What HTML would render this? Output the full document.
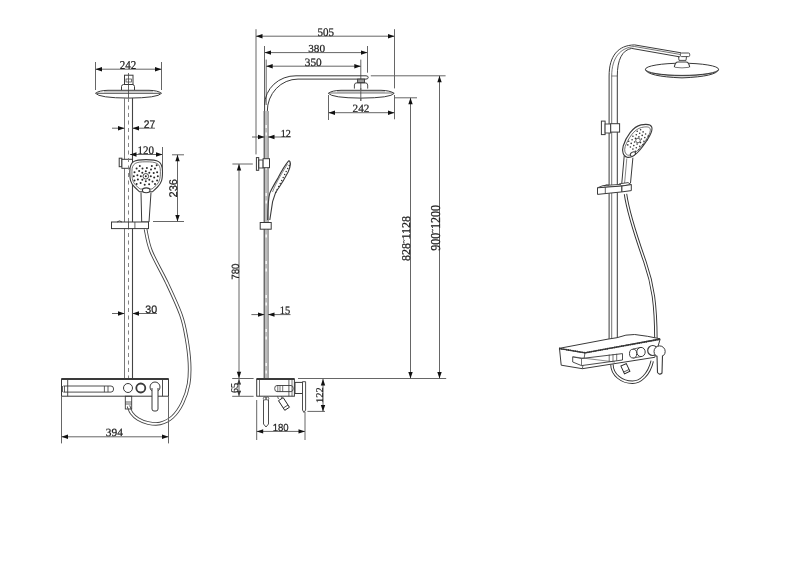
<!DOCTYPE html>
<html><head><meta charset="utf-8"><style>
html,body{margin:0;padding:0;background:#fff;}
svg{display:block;filter:blur(0.45px);}
</style></head><body>
<svg width="800" height="566" viewBox="0 0 800 566">
<rect width="800" height="566" fill="#fff"/>
<line x1="95.5" y1="62" x2="95.5" y2="90" stroke="#666" stroke-width="1" />
<line x1="161.5" y1="62" x2="161.5" y2="90" stroke="#666" stroke-width="1" />
<line x1="95.5" y1="69.2" x2="161.5" y2="69.2" stroke="#666" stroke-width="1" />
<path d="M95.50,69.20 L102.00,67.00 L102.00,71.40 Z" fill="#111"/>
<path d="M161.50,69.20 L155.00,71.40 L155.00,67.00 Z" fill="#111"/>
<text x="0" y="0" font-family="Liberation Serif" font-size="100" text-rendering="geometricPrecision" fill="#222" stroke="#222" stroke-width="2" transform="translate(119.76 69.10) scale(0.1107 0.1200)">242</text>
<rect x="124.5" y="75.2" width="8.5" height="9.3" rx="0" stroke="#3a3a3a" stroke-width="1" fill="none"/>
<rect x="126" y="79" width="5.5" height="3" rx="0" stroke="#3a3a3a" stroke-width="0.7" fill="none"/>
<path d="M121.5,90 L121.5,86.5 Q121.8,84.5 123.5,84.5 L132.5,84.5 Q134.2,84.5 134.5,86.5 L134.5,90" stroke="#3a3a3a" stroke-width="1" fill="none" />
<path d="M95.5,93.3 Q99,90.5 108,90.3 L149,90.3 Q158,90.5 161.5,93.3 Q158,97.9 128.5,98.1 Q99,97.9 95.5,93.3 Z" stroke="#3a3a3a" stroke-width="1" fill="#fff" />
<line x1="97" y1="93.3" x2="160" y2="93.3" stroke="#3a3a3a" stroke-width="0.9" />
<line x1="104" y1="91.8" x2="153" y2="91.8" stroke="#777" stroke-width="0.6" />
<line x1="128.5" y1="73" x2="128.5" y2="98" stroke="#444" stroke-width="0.8" />
<line x1="124.5" y1="98" x2="124.5" y2="379" stroke="#777" stroke-width="1" />
<line x1="132.5" y1="98" x2="132.5" y2="379" stroke="#444" stroke-width="1.1" />
<line x1="112" y1="128.2" x2="124.5" y2="128.2" stroke="#666" stroke-width="1" />
<line x1="132.5" y1="128.2" x2="155" y2="128.2" stroke="#666" stroke-width="1" />
<path d="M124.50,128.20 L118.00,130.40 L118.00,126.00 Z" fill="#111"/>
<path d="M132.50,128.20 L139.00,126.00 L139.00,130.40 Z" fill="#111"/>
<text x="0" y="0" font-family="Liberation Sans" font-size="100" text-rendering="geometricPrecision" fill="#222" stroke="#222" stroke-width="2" transform="translate(143.79 128.30) scale(0.1030 0.1100)">27</text>
<line x1="130" y1="154.5" x2="162.5" y2="154.5" stroke="#666" stroke-width="1" />
<path d="M130.00,154.50 L136.50,152.30 L136.50,156.70 Z" fill="#111"/>
<path d="M162.50,154.50 L156.00,156.70 L156.00,152.30 Z" fill="#111"/>
<line x1="162.5" y1="147" x2="162.5" y2="172" stroke="#666" stroke-width="1" />
<text x="0" y="0" font-family="Liberation Serif" font-size="100" text-rendering="geometricPrecision" fill="#222" stroke="#222" stroke-width="2" transform="translate(137.41 154.07) scale(0.1102 0.1147)">120</text>
<line x1="172" y1="154.8" x2="184" y2="154.8" stroke="#666" stroke-width="1" />
<line x1="153" y1="221.5" x2="184" y2="221.5" stroke="#666" stroke-width="1" />
<line x1="177.5" y1="154.8" x2="177.5" y2="221.5" stroke="#666" stroke-width="1" />
<path d="M177.50,154.80 L179.70,161.30 L175.30,161.30 Z" fill="#111"/>
<path d="M177.50,221.50 L175.30,215.00 L179.70,215.00 Z" fill="#111"/>
<text x="0" y="0" font-family="Liberation Sans" font-size="100" text-rendering="geometricPrecision" fill="#222" stroke="#222" stroke-width="2" transform="translate(176.79 197.45) rotate(-90) scale(0.1102 0.1113)">236</text>
<rect x="119.2" y="158.2" width="2.7" height="8.5" rx="0" stroke="#3a3a3a" stroke-width="1" fill="none"/>
<rect x="121.9" y="159.3" width="10.6" height="9" rx="0" stroke="#3a3a3a" stroke-width="1" fill="#fff"/>
<line x1="128.5" y1="98" x2="128.5" y2="379" stroke="#777" stroke-width="0.9" stroke-dasharray="4,3.5"/>
<path d="M146,159.6 C157.5,159.6 162.5,161 162.5,171.5 C162.5,180 161.5,183 157.5,187 L152.5,191.8 L139.5,191.8 L134.5,187 C130.5,183 129.8,180 129.8,171.5 C129.8,161 134.5,159.6 146,159.6 Z" stroke="#3a3a3a" stroke-width="1.1" fill="#fff" />
<path d="M146,161.8 C156,161.8 160.4,163 160.4,171.5 C160.4,179 159.5,182 156,185.5 L152,189 L140,189 L136,185.5 C132.5,182 131.9,179 131.9,171.5 C131.9,163 136,161.8 146,161.8 Z" stroke="#3a3a3a" stroke-width="0.7" fill="none" />
<circle cx="150.8" cy="176.3" r="1.0" stroke="none" stroke-width="0" fill="#2a2a2a"/>
<circle cx="149.3" cy="179.8" r="1.0" stroke="none" stroke-width="0" fill="#2a2a2a"/>
<circle cx="145.8" cy="181.3" r="1.0" stroke="none" stroke-width="0" fill="#2a2a2a"/>
<circle cx="142.3" cy="179.8" r="1.0" stroke="none" stroke-width="0" fill="#2a2a2a"/>
<circle cx="140.8" cy="176.3" r="1.0" stroke="none" stroke-width="0" fill="#2a2a2a"/>
<circle cx="142.3" cy="172.8" r="1.0" stroke="none" stroke-width="0" fill="#2a2a2a"/>
<circle cx="145.8" cy="171.3" r="1.0" stroke="none" stroke-width="0" fill="#2a2a2a"/>
<circle cx="149.3" cy="172.8" r="1.0" stroke="none" stroke-width="0" fill="#2a2a2a"/>
<circle cx="154.2" cy="177.4" r="1.0" stroke="none" stroke-width="0" fill="#2a2a2a"/>
<circle cx="152.5" cy="181.5" r="1.0" stroke="none" stroke-width="0" fill="#2a2a2a"/>
<circle cx="149.1" cy="184.2" r="1.0" stroke="none" stroke-width="0" fill="#2a2a2a"/>
<circle cx="144.7" cy="184.7" r="1.0" stroke="none" stroke-width="0" fill="#2a2a2a"/>
<circle cx="140.6" cy="183.0" r="1.0" stroke="none" stroke-width="0" fill="#2a2a2a"/>
<circle cx="137.9" cy="179.6" r="1.0" stroke="none" stroke-width="0" fill="#2a2a2a"/>
<circle cx="137.4" cy="175.2" r="1.0" stroke="none" stroke-width="0" fill="#2a2a2a"/>
<circle cx="139.1" cy="171.1" r="1.0" stroke="none" stroke-width="0" fill="#2a2a2a"/>
<circle cx="142.5" cy="168.4" r="1.0" stroke="none" stroke-width="0" fill="#2a2a2a"/>
<circle cx="146.9" cy="167.9" r="1.0" stroke="none" stroke-width="0" fill="#2a2a2a"/>
<circle cx="151.0" cy="169.6" r="1.0" stroke="none" stroke-width="0" fill="#2a2a2a"/>
<circle cx="153.7" cy="173.0" r="1.0" stroke="none" stroke-width="0" fill="#2a2a2a"/>
<circle cx="157.8" cy="176.3" r="1.0" stroke="none" stroke-width="0" fill="#2a2a2a"/>
<circle cx="157.1" cy="180.4" r="1.0" stroke="none" stroke-width="0" fill="#2a2a2a"/>
<circle cx="155.0" cy="184.0" r="1.0" stroke="none" stroke-width="0" fill="#2a2a2a"/>
<circle cx="136.6" cy="184.0" r="1.0" stroke="none" stroke-width="0" fill="#2a2a2a"/>
<circle cx="134.5" cy="180.4" r="1.0" stroke="none" stroke-width="0" fill="#2a2a2a"/>
<circle cx="133.8" cy="176.3" r="1.0" stroke="none" stroke-width="0" fill="#2a2a2a"/>
<circle cx="134.5" cy="172.2" r="1.0" stroke="none" stroke-width="0" fill="#2a2a2a"/>
<circle cx="136.6" cy="168.6" r="1.0" stroke="none" stroke-width="0" fill="#2a2a2a"/>
<circle cx="139.8" cy="165.9" r="1.0" stroke="none" stroke-width="0" fill="#2a2a2a"/>
<circle cx="151.8" cy="165.9" r="1.0" stroke="none" stroke-width="0" fill="#2a2a2a"/>
<circle cx="155.0" cy="168.6" r="1.0" stroke="none" stroke-width="0" fill="#2a2a2a"/>
<circle cx="157.1" cy="172.2" r="1.0" stroke="none" stroke-width="0" fill="#2a2a2a"/>
<circle cx="156.7" cy="165.3" r="1.0" stroke="none" stroke-width="0" fill="#2a2a2a"/>
<circle cx="145.8" cy="176.3" r="2.8" stroke="#3a3a3a" stroke-width="0.9" fill="none"/>
<circle cx="145.8" cy="176.3" r="1.0" stroke="none" stroke-width="0" fill="#222"/>
<ellipse cx="146.2" cy="190.3" rx="3.8" ry="2.4" stroke="#3a3a3a" stroke-width="1.1" fill="#fff" />
<path d="M141,192.5 L141.7,222 L149,222 L151,192.5" stroke="#3a3a3a" stroke-width="1" fill="none" />
<rect x="111.5" y="222" width="37" height="6.6" rx="0" stroke="#3a3a3a" stroke-width="1" fill="#fff"/>
<line x1="128.5" y1="222" x2="128.5" y2="228.6" stroke="#3a3a3a" stroke-width="0.8" />
<line x1="134.9" y1="222" x2="134.9" y2="228.6" stroke="#3a3a3a" stroke-width="0.8" />
<path d="M117,222 Q119.5,219.8 122,222" stroke="#3a3a3a" stroke-width="0.9" fill="none" />
<path d="M145.5,229 C146.42,232.67 147.42,242.00 151,251 C154.58,260.00 162.00,272.33 167,283 C172.00,293.67 177.75,305.83 181,315 C184.25,324.17 185.08,330.00 186.5,338 C187.92,346.00 189.15,355.33 189.5,363 C189.85,370.67 189.78,377.33 188.6,384 C187.42,390.67 185.08,397.50 182.4,403 C179.72,408.50 176.23,413.58 172.5,417 C168.77,420.42 164.08,422.50 160,423.5 C155.92,424.50 151.67,423.75 148,423 C144.33,422.25 140.75,420.67 138,419 C135.25,417.33 133.08,415.17 131.5,413 C129.92,410.83 129.00,407.17 128.5,406" stroke="#444" stroke-width="3.6" fill="none" />
<path d="M145.5,229 C146.42,232.67 147.42,242.00 151,251 C154.58,260.00 162.00,272.33 167,283 C172.00,293.67 177.75,305.83 181,315 C184.25,324.17 185.08,330.00 186.5,338 C187.92,346.00 189.15,355.33 189.5,363 C189.85,370.67 189.78,377.33 188.6,384 C187.42,390.67 185.08,397.50 182.4,403 C179.72,408.50 176.23,413.58 172.5,417 C168.77,420.42 164.08,422.50 160,423.5 C155.92,424.50 151.67,423.75 148,423 C144.33,422.25 140.75,420.67 138,419 C135.25,417.33 133.08,415.17 131.5,413 C129.92,410.83 129.00,407.17 128.5,406" stroke="#fff" stroke-width="1.8" fill="none" />
<line x1="112" y1="313.5" x2="124.5" y2="313.5" stroke="#666" stroke-width="1" />
<line x1="132.5" y1="313.5" x2="157" y2="313.5" stroke="#666" stroke-width="1" />
<path d="M124.50,313.50 L118.00,315.70 L118.00,311.30 Z" fill="#111"/>
<path d="M132.50,313.50 L139.00,311.30 L139.00,315.70 Z" fill="#111"/>
<text x="0" y="0" font-family="Liberation Sans" font-size="100" text-rendering="geometricPrecision" fill="#222" stroke="#222" stroke-width="2" transform="translate(145.37 313.49) scale(0.1068 0.1085)">30</text>
<rect x="61.5" y="379" width="107" height="17.2" rx="0" stroke="#3a3a3a" stroke-width="1" fill="#fff"/>
<line x1="61.5" y1="379" x2="168.5" y2="379" stroke="#3a3a3a" stroke-width="2" />
<line x1="67.7" y1="379" x2="67.7" y2="396.2" stroke="#3a3a3a" stroke-width="0.9" />
<line x1="162.5" y1="379" x2="162.5" y2="396.2" stroke="#3a3a3a" stroke-width="0.9" />
<path d="M63.4,386 L111,386 Q113.6,386 113.6,389 Q113.6,392.1 111,392.1 L63.4,392.1" stroke="#3a3a3a" stroke-width="0.9" fill="none" />
<line x1="104.4" y1="386" x2="104.4" y2="392.1" stroke="#3a3a3a" stroke-width="0.8" />
<line x1="108" y1="386" x2="108" y2="392.1" stroke="#3a3a3a" stroke-width="0.8" />
<line x1="62.5" y1="386" x2="62.5" y2="392.1" stroke="#3a3a3a" stroke-width="0.8" />
<line x1="64.5" y1="386" x2="64.5" y2="392.1" stroke="#3a3a3a" stroke-width="0.8" />
<circle cx="128" cy="388" r="4.5" stroke="#3a3a3a" stroke-width="1" fill="none"/>
<circle cx="140.8" cy="388" r="4.5" stroke="#3a3a3a" stroke-width="1.8" fill="none"/>
<circle cx="155" cy="387" r="5" stroke="#3a3a3a" stroke-width="1" fill="none"/>
<path d="M152,388 L152,409 Q152,411 154,411 L156,411 Q158,411 158,409 L158,388" stroke="#3a3a3a" stroke-width="1" fill="#fff" />
<rect x="125.3" y="396.2" width="6.4" height="12.8" rx="0" stroke="#3a3a3a" stroke-width="0.9" fill="none"/>
<line x1="125.3" y1="402" x2="131.7" y2="402" stroke="#3a3a3a" stroke-width="0.8" />
<line x1="125.3" y1="404" x2="131.7" y2="404" stroke="#3a3a3a" stroke-width="0.8" />
<line x1="61.5" y1="396" x2="61.5" y2="443.4" stroke="#666" stroke-width="1" />
<line x1="168.5" y1="396" x2="168.5" y2="443.4" stroke="#666" stroke-width="1" />
<line x1="61.5" y1="436.8" x2="168.5" y2="436.8" stroke="#666" stroke-width="1" />
<path d="M61.50,436.80 L68.00,434.60 L68.00,439.00 Z" fill="#111"/>
<path d="M168.50,436.80 L162.00,439.00 L162.00,434.60 Z" fill="#111"/>
<text x="0" y="0" font-family="Liberation Serif" font-size="100" text-rendering="geometricPrecision" fill="#222" stroke="#222" stroke-width="2" transform="translate(105.73 436.39) scale(0.1140 0.1106)">394</text>
<line x1="256" y1="29.2" x2="256" y2="154.4" stroke="#666" stroke-width="1" />
<line x1="394.5" y1="29.2" x2="394.5" y2="88.4" stroke="#666" stroke-width="1" />
<line x1="394.5" y1="95" x2="394.5" y2="119.3" stroke="#666" stroke-width="1" />
<line x1="256" y1="36.2" x2="394.5" y2="36.2" stroke="#666" stroke-width="1" />
<path d="M256.00,36.20 L262.50,34.00 L262.50,38.40 Z" fill="#111"/>
<path d="M394.50,36.20 L388.00,38.40 L388.00,34.00 Z" fill="#111"/>
<text x="0" y="0" font-family="Liberation Serif" font-size="100" text-rendering="geometricPrecision" fill="#222" stroke="#222" stroke-width="2" transform="translate(317.39 35.77) scale(0.1104 0.1164)">505</text>
<line x1="264.5" y1="46" x2="264.5" y2="105" stroke="#666" stroke-width="1" />
<line x1="367.5" y1="46" x2="367.5" y2="72.7" stroke="#666" stroke-width="1" />
<line x1="264.5" y1="52.6" x2="367.5" y2="52.6" stroke="#666" stroke-width="1" />
<path d="M264.50,52.60 L271.00,50.40 L271.00,54.80 Z" fill="#111"/>
<path d="M367.50,52.60 L361.00,54.80 L361.00,50.40 Z" fill="#111"/>
<text x="0" y="0" font-family="Liberation Serif" font-size="100" text-rendering="geometricPrecision" fill="#222" stroke="#222" stroke-width="2" transform="translate(308.24 52.19) scale(0.1121 0.1060)">380</text>
<line x1="266.2" y1="59.6" x2="266.2" y2="105" stroke="#666" stroke-width="1" />
<line x1="360.8" y1="59.6" x2="360.8" y2="101" stroke="#666" stroke-width="1" />
<line x1="266.2" y1="66.2" x2="360.8" y2="66.2" stroke="#666" stroke-width="1" />
<path d="M266.20,66.20 L272.70,64.00 L272.70,68.40 Z" fill="#111"/>
<path d="M360.80,66.20 L354.30,68.40 L354.30,64.00 Z" fill="#111"/>
<text x="0" y="0" font-family="Liberation Serif" font-size="100" text-rendering="geometricPrecision" fill="#222" stroke="#222" stroke-width="2" transform="translate(304.74 65.67) scale(0.1128 0.1134)">350</text>
<path d="M264.6,130 L264.6,105 A31,29.5 0 0 1 296,75.8 L366,75.8 Q368.2,75.8 368.2,77.4 Q368.2,79.1 366,79.1 L298,79.1 A30.7,32 0 0 0 267.3,111.4 L267.3,130" stroke="#3a3a3a" stroke-width="1" fill="none" />
<rect x="264" y="111" width="4.5" height="268" fill="#bdbdbd"/>
<line x1="264.2" y1="111" x2="264.2" y2="379" stroke="#555" stroke-width="1.2" />
<line x1="268.2" y1="111" x2="268.2" y2="379" stroke="#888" stroke-width="1" />
<line x1="266.2" y1="117" x2="266.2" y2="379" stroke="#fff" stroke-width="1.3" stroke-dasharray="0,8,3,4.5,3,15.5"/>
<rect x="357.6" y="79.1" width="6.9" height="3.7" rx="0" stroke="#3a3a3a" stroke-width="0.9" fill="#999"/>
<path d="M354.4,88.6 L354.4,85 Q354.4,82.8 357,82.8 L365,82.8 Q367.7,82.8 367.7,85 L367.7,88.6" stroke="#3a3a3a" stroke-width="0.9" fill="none" />
<path d="M328.3,93.3 Q332,90.5 341,90.3 L381,90.3 Q390,90.5 394.2,93.3 Q391,97.9 361,98.1 Q332,97.9 328.3,93.3 Z" stroke="#3a3a3a" stroke-width="1" fill="#fff" />
<line x1="337" y1="91.8" x2="385" y2="91.8" stroke="#777" stroke-width="0.6" />
<line x1="360.8" y1="88" x2="360.8" y2="101" stroke="#666" stroke-width="1" />
<line x1="330" y1="93" x2="392.5" y2="93" stroke="#3a3a3a" stroke-width="0.7" />
<line x1="370.8" y1="75.8" x2="445.6" y2="75.8" stroke="#666" stroke-width="1" />
<line x1="394.5" y1="97.8" x2="417" y2="97.8" stroke="#666" stroke-width="1" />
<line x1="328.5" y1="95" x2="328.5" y2="120" stroke="#666" stroke-width="1" />
<line x1="328.5" y1="112.7" x2="394.5" y2="112.7" stroke="#666" stroke-width="1" />
<path d="M328.50,112.70 L335.00,110.50 L335.00,114.90 Z" fill="#111"/>
<path d="M394.50,112.70 L388.00,114.90 L388.00,110.50 Z" fill="#111"/>
<text x="0" y="0" font-family="Liberation Serif" font-size="100" text-rendering="geometricPrecision" fill="#222" stroke="#222" stroke-width="2" transform="translate(352.55 112.45) scale(0.1121 0.1115)">242</text>
<line x1="252" y1="137" x2="264.5" y2="137" stroke="#666" stroke-width="1" />
<line x1="268" y1="137" x2="290.7" y2="137" stroke="#666" stroke-width="1" />
<path d="M264.50,137.00 L258.00,139.20 L258.00,134.80 Z" fill="#111"/>
<path d="M268.00,137.00 L274.50,134.80 L274.50,139.20 Z" fill="#111"/>
<text x="0" y="0" font-family="Liberation Serif" font-size="100" text-rendering="geometricPrecision" fill="#222" stroke="#222" stroke-width="2" transform="translate(280.69 136.50) scale(0.1012 0.1061)">12</text>
<rect x="256.4" y="157.6" width="2.3" height="12.7" rx="0" stroke="#3a3a3a" stroke-width="1" fill="none"/>
<rect x="258.7" y="160" width="4.4" height="8" rx="0" stroke="#3a3a3a" stroke-width="0.9" fill="none"/>
<rect x="263.1" y="158.7" width="6.4" height="9" rx="0" stroke="#3a3a3a" stroke-width="1" fill="#fff"/>
<line x1="232.4" y1="164" x2="252.8" y2="164" stroke="#666" stroke-width="1" />
<line x1="239" y1="164" x2="239" y2="378.5" stroke="#666" stroke-width="1" />
<path d="M239.00,164.00 L241.20,170.50 L236.80,170.50 Z" fill="#111"/>
<path d="M239.00,378.30 L236.80,371.80 L241.20,371.80 Z" fill="#111"/>
<text x="0" y="0" font-family="Liberation Sans" font-size="100" text-rendering="geometricPrecision" fill="#222" stroke="#222" stroke-width="2" transform="translate(238.69 279.79) rotate(-90) scale(0.0981 0.1056)">780</text>
<line x1="232.2" y1="378.5" x2="253.6" y2="378.5" stroke="#666" stroke-width="1" />
<line x1="232.2" y1="396.3" x2="253.6" y2="396.3" stroke="#666" stroke-width="1" />
<path d="M239.00,379.00 L241.00,384.50 L237.00,384.50 Z" fill="#111"/>
<path d="M239.00,396.30 L237.00,390.80 L241.00,390.80 Z" fill="#111"/>
<line x1="239" y1="379" x2="239" y2="396" stroke="#666" stroke-width="1" />
<text x="0" y="0" font-family="Liberation Serif" font-size="100" text-rendering="geometricPrecision" fill="#222" stroke="#222" stroke-width="2" transform="translate(238.19 393.00) rotate(-90) scale(0.1011 0.1045)">65</text>
<line x1="251.4" y1="314.6" x2="264.5" y2="314.6" stroke="#666" stroke-width="1" />
<line x1="268" y1="314.6" x2="290.5" y2="314.6" stroke="#666" stroke-width="1" />
<path d="M264.50,314.60 L258.00,316.80 L258.00,312.40 Z" fill="#111"/>
<path d="M268.00,314.60 L274.50,312.40 L274.50,316.80 Z" fill="#111"/>
<text x="0" y="0" font-family="Liberation Serif" font-size="100" text-rendering="geometricPrecision" fill="#222" stroke="#222" stroke-width="2" transform="translate(279.76 314.29) scale(0.1046 0.1134)">15</text>
<path d="M288.8,160.6 C286,164 281,172 278.2,177.6 C275,183 271,190 269.8,193.1 C268.3,198 267.8,210 267.7,220" stroke="#3a3a3a" stroke-width="1.1" fill="none" />
<path d="M288.8,160.6 C290.8,161.5 290.8,166 288.1,172 C286,176 282,183 279,187.5 C277,190 276,192 275.4,193.1 L272.6,201.6 L269.8,220" stroke="#3a3a3a" stroke-width="1.1" fill="none" />
<path d="M287.5,164 C284,170 276,182 272.5,192" stroke="#3a3a3a" stroke-width="0.6" fill="none" />
<circle cx="289.2" cy="165.5" r="0.75" stroke="none" stroke-width="0" fill="#333"/>
<circle cx="287.7" cy="168.5" r="0.75" stroke="none" stroke-width="0" fill="#333"/>
<circle cx="286.2" cy="171.5" r="0.75" stroke="none" stroke-width="0" fill="#333"/>
<circle cx="284.7" cy="174.5" r="0.75" stroke="none" stroke-width="0" fill="#333"/>
<circle cx="283.2" cy="177.5" r="0.75" stroke="none" stroke-width="0" fill="#333"/>
<circle cx="281.7" cy="180.5" r="0.75" stroke="none" stroke-width="0" fill="#333"/>
<circle cx="280.2" cy="183.5" r="0.75" stroke="none" stroke-width="0" fill="#333"/>
<circle cx="278.7" cy="186.5" r="0.75" stroke="none" stroke-width="0" fill="#333"/>
<circle cx="277.2" cy="189.5" r="0.75" stroke="none" stroke-width="0" fill="#333"/>
<circle cx="275.7" cy="192.5" r="0.75" stroke="none" stroke-width="0" fill="#333"/>
<rect x="260.2" y="222.5" width="11" height="6.7" rx="0" stroke="#3a3a3a" stroke-width="1" fill="#fff"/>
<rect x="256.7" y="379" width="37.7" height="17.2" rx="0" stroke="#3a3a3a" stroke-width="1" fill="#fff"/>
<line x1="256.7" y1="379" x2="294.4" y2="379" stroke="#3a3a3a" stroke-width="2" />
<line x1="259.5" y1="379" x2="259.5" y2="396.2" stroke="#3a3a3a" stroke-width="0.7" />
<line x1="288.9" y1="379" x2="288.9" y2="396.2" stroke="#3a3a3a" stroke-width="0.8" />
<line x1="292" y1="379" x2="292" y2="396.2" stroke="#3a3a3a" stroke-width="0.7" />
<path d="M277,385.5 L291,385.5 Q293.2,385.5 293.2,388.5 Q293.2,391.6 291,391.6 L277,391.6 Q274.7,391.6 274.7,388.5 Q274.7,385.5 277,385.5 Z" stroke="#3a3a3a" stroke-width="0.9" fill="none" />
<line x1="277.8" y1="385.5" x2="277.8" y2="391.6" stroke="#3a3a3a" stroke-width="0.7" />
<line x1="280" y1="385.5" x2="280" y2="391.6" stroke="#3a3a3a" stroke-width="0.7" />
<line x1="282.7" y1="385.5" x2="282.7" y2="391.6" stroke="#3a3a3a" stroke-width="0.7" />
<rect x="295" y="382.4" width="8" height="11.1" rx="0" stroke="#3a3a3a" stroke-width="1" fill="none"/>
<path d="M302.5,381.7 L305.6,381.7 L305.6,410 L304,412.5 L302.5,410 Z" stroke="#3a3a3a" stroke-width="0.9" fill="#fff" />
<path d="M263.5,400 L263.5,424 L266,427 L268.5,424 L268.5,400" stroke="#3a3a3a" stroke-width="0.9" fill="none" />
<circle cx="264.8" cy="398.5" r="1.5" stroke="#3a3a3a" stroke-width="0.8" fill="none"/>
<circle cx="267.3" cy="398.5" r="1.5" stroke="#3a3a3a" stroke-width="0.8" fill="none"/>
<path d="M277.5,396.4 L278.5,399 M281.5,396.4 L282,398.5" stroke="#3a3a3a" stroke-width="0.8" fill="none" />
<g transform="rotate(-33 284 404)"><rect x="281.2" y="398.2" width="5.6" height="11.5" stroke="#222" stroke-width="0.9" fill="#fff"/><line x1="281.2" y1="407" x2="286.8" y2="407" stroke="#222" stroke-width="0.7"/></g>
<line x1="298" y1="378.5" x2="446.2" y2="378.5" stroke="#666" stroke-width="1" />
<line x1="307.4" y1="411.4" x2="325" y2="411.4" stroke="#666" stroke-width="1" />
<line x1="323" y1="378.9" x2="323" y2="411.4" stroke="#666" stroke-width="1" />
<path d="M323.00,378.90 L325.20,385.40 L320.80,385.40 Z" fill="#111"/>
<path d="M323.00,411.40 L320.80,404.90 L325.20,404.90 Z" fill="#111"/>
<text x="0" y="0" font-family="Liberation Serif" font-size="100" text-rendering="geometricPrecision" fill="#222" stroke="#222" stroke-width="2" transform="translate(322.70 402.93) rotate(-90) scale(0.1037 0.1030)">122</text>
<line x1="256.7" y1="400" x2="256.7" y2="440" stroke="#666" stroke-width="1" />
<line x1="305" y1="412" x2="305" y2="440" stroke="#666" stroke-width="1" />
<line x1="256.7" y1="431.4" x2="305" y2="431.4" stroke="#666" stroke-width="1" />
<path d="M256.70,431.40 L263.20,429.20 L263.20,433.60 Z" fill="#111"/>
<path d="M305.00,431.40 L298.50,433.60 L298.50,429.20 Z" fill="#111"/>
<text x="0" y="0" font-family="Liberation Sans" font-size="100" text-rendering="geometricPrecision" fill="#222" stroke="#222" stroke-width="2" transform="translate(272.74 431.10) scale(0.0955 0.1028)">180</text>
<line x1="410.5" y1="97.8" x2="410.5" y2="378.5" stroke="#666" stroke-width="1" />
<path d="M410.50,97.80 L412.70,104.30 L408.30,104.30 Z" fill="#111"/>
<path d="M410.50,378.50 L408.30,372.00 L412.70,372.00 Z" fill="#111"/>
<line x1="439.5" y1="75.8" x2="439.5" y2="378.5" stroke="#666" stroke-width="1" />
<path d="M439.50,75.80 L441.70,82.30 L437.30,82.30 Z" fill="#111"/>
<path d="M439.50,378.50 L437.30,372.00 L441.70,372.00 Z" fill="#111"/>
<text x="0" y="0" font-family="Liberation Serif" font-size="100" text-rendering="geometricPrecision" fill="#222" stroke="#222" stroke-width="2" transform="translate(410.46 261.08) rotate(-90) scale(0.1201 0.1191)">828<tspan font-size="55" dy="-38">~</tspan><tspan dy="38">1128</tspan></text>
<text x="0" y="0" font-family="Liberation Serif" font-size="100" text-rendering="geometricPrecision" fill="#222" stroke="#222" stroke-width="2" transform="translate(439.73 250.66) rotate(-90) scale(0.1201 0.1353)">900<tspan font-size="55" dy="-38">~</tspan><tspan dy="38">1200</tspan></text>
<path d="M609.1,341 L609.1,76 C609.1,56 618,45.2 634.6,44.9 L681,52.8" stroke="#3a3a3a" stroke-width="1" fill="none" />
<path d="M617.3,341 L617.3,76 C617.3,60 622,50 631.7,48.4 L680,56.9" stroke="#3a3a3a" stroke-width="1" fill="none" />
<path d="M611.7,341 L611.7,76 C611.7,58 620,47.5 634.6,46.5 L680.5,54.5" stroke="#3a3a3a" stroke-width="0.7" fill="none" />
<line x1="611.7" y1="76" x2="617.3" y2="76" stroke="#3a3a3a" stroke-width="0.6" />
<rect x="680.4" y="53" width="9.3" height="3.6" rx="1.2" stroke="#3a3a3a" stroke-width="0.9" fill="#fff"/>
<path d="M678.5,56.6 L679,60.4 L686,60.4 L686.5,56.6" stroke="#3a3a3a" stroke-width="0.9" fill="none" />
<path d="M645.4,69.3 Q647,76.5 682,77.9 Q717,76.5 718.6,69.3 A36.6,6.1 0 0 1 645.4,69.3 Z" stroke="#3a3a3a" stroke-width="1" fill="#d8d8d8" />
<ellipse cx="682" cy="69.3" rx="36.6" ry="6.1" stroke="#3a3a3a" stroke-width="1" fill="#fff" />
<path d="M674.3,67.3 Q675,62 678,62 L686,62 Q689,62 689.7,67.3" stroke="#3a3a3a" stroke-width="1.1" fill="#fff" />
<path d="M675,67.3 Q682,68.5 689,67.3" stroke="#3a3a3a" stroke-width="0.7" fill="none" />
<rect x="601.4" y="121.1" width="3.7" height="13.5" rx="0" stroke="#3a3a3a" stroke-width="1" fill="#fff"/>
<rect x="605.1" y="124" width="5.6" height="9" rx="0" stroke="#3a3a3a" stroke-width="0.9" fill="#fff"/>
<rect x="610.7" y="123.7" width="8.9" height="8.4" rx="0" stroke="#3a3a3a" stroke-width="1" fill="#fff"/>
<path d="M624.2,156 L621.8,183.1 M632.9,157.7 L630.5,183.1" stroke="#3a3a3a" stroke-width="1" fill="none" />
<path d="M626.8,158.5 L624.6,183" stroke="#3a3a3a" stroke-width="0.6" fill="none" />
<path d="M641,124.9 C646,124 650.5,123.8 651.8,127.2 C653,131 648,140 639.5,150.5 C635,155.5 630.5,158.2 627,157.2 C623,156.2 621.8,151 623.2,146 C626,137 633,126.5 641,124.9 Z" stroke="#3a3a3a" stroke-width="1.1" fill="#fff" />
<path d="M641.5,127.5 C646,126.5 649.5,126.5 650.3,129 C651,133 646,141 638.5,149.5 C634,154 630,156 627.5,155 C625,154 624,150.5 625.2,146.5 C628,139 634,129 641.5,127.5 Z" stroke="#3a3a3a" stroke-width="0.7" fill="none" />
<circle cx="640.6" cy="129.7" r="0.8" stroke="none" stroke-width="0" fill="#333"/>
<circle cx="643.1" cy="131.9" r="0.8" stroke="none" stroke-width="0" fill="#333"/>
<circle cx="645.6" cy="134.0" r="0.8" stroke="none" stroke-width="0" fill="#333"/>
<circle cx="648.2" cy="136.1" r="0.8" stroke="none" stroke-width="0" fill="#333"/>
<circle cx="637.2" cy="131.2" r="0.8" stroke="none" stroke-width="0" fill="#333"/>
<circle cx="639.7" cy="133.3" r="0.8" stroke="none" stroke-width="0" fill="#333"/>
<circle cx="642.2" cy="135.4" r="0.8" stroke="none" stroke-width="0" fill="#333"/>
<circle cx="644.8" cy="137.6" r="0.8" stroke="none" stroke-width="0" fill="#333"/>
<circle cx="647.3" cy="139.7" r="0.8" stroke="none" stroke-width="0" fill="#333"/>
<circle cx="636.3" cy="134.8" r="0.8" stroke="none" stroke-width="0" fill="#333"/>
<circle cx="638.9" cy="136.9" r="0.8" stroke="none" stroke-width="0" fill="#333"/>
<circle cx="641.4" cy="139.0" r="0.8" stroke="none" stroke-width="0" fill="#333"/>
<circle cx="643.9" cy="141.2" r="0.8" stroke="none" stroke-width="0" fill="#333"/>
<circle cx="632.9" cy="136.3" r="0.8" stroke="none" stroke-width="0" fill="#333"/>
<circle cx="635.5" cy="138.4" r="0.8" stroke="none" stroke-width="0" fill="#333"/>
<circle cx="640.5" cy="142.6" r="0.8" stroke="none" stroke-width="0" fill="#333"/>
<circle cx="643.1" cy="144.7" r="0.8" stroke="none" stroke-width="0" fill="#333"/>
<circle cx="632.1" cy="139.8" r="0.8" stroke="none" stroke-width="0" fill="#333"/>
<circle cx="634.6" cy="142.0" r="0.8" stroke="none" stroke-width="0" fill="#333"/>
<circle cx="637.1" cy="144.1" r="0.8" stroke="none" stroke-width="0" fill="#333"/>
<circle cx="639.7" cy="146.2" r="0.8" stroke="none" stroke-width="0" fill="#333"/>
<circle cx="628.7" cy="141.3" r="0.8" stroke="none" stroke-width="0" fill="#333"/>
<circle cx="631.2" cy="143.4" r="0.8" stroke="none" stroke-width="0" fill="#333"/>
<circle cx="633.8" cy="145.6" r="0.8" stroke="none" stroke-width="0" fill="#333"/>
<circle cx="636.3" cy="147.7" r="0.8" stroke="none" stroke-width="0" fill="#333"/>
<circle cx="638.8" cy="149.8" r="0.8" stroke="none" stroke-width="0" fill="#333"/>
<circle cx="627.8" cy="144.9" r="0.8" stroke="none" stroke-width="0" fill="#333"/>
<circle cx="630.4" cy="147.0" r="0.8" stroke="none" stroke-width="0" fill="#333"/>
<circle cx="632.9" cy="149.1" r="0.8" stroke="none" stroke-width="0" fill="#333"/>
<circle cx="635.4" cy="151.3" r="0.8" stroke="none" stroke-width="0" fill="#333"/>
<circle cx="638" cy="140.5" r="2.3" stroke="#3a3a3a" stroke-width="0.8" fill="none"/>
<ellipse cx="632.9" cy="154" rx="2.8" ry="1.8" stroke="#3a3a3a" stroke-width="1" fill="#fff" transform="rotate(-30 632.9 154)"/>
<path d="M597.5,187.8 L603,185.6 L626,184 L621.9,186 Z" stroke="#3a3a3a" stroke-width="0.9" fill="#fff" />
<path d="M597.5,187.8 L621.9,186 L621.9,191.9 L597.5,194.4 Z" stroke="#3a3a3a" stroke-width="1" fill="#fff" />
<line x1="605.3" y1="187.2" x2="605.3" y2="193.6" stroke="#3a3a3a" stroke-width="0.8" />
<path d="M621.9,186 L619.5,183.8 L628,182.6 L631.3,184.6 Z" stroke="#3a3a3a" stroke-width="0.9" fill="#fff" />
<path d="M621.9,186 L631.3,184.6 L631.3,190.6 L621.9,191.9 Z" stroke="#3a3a3a" stroke-width="1" fill="#fff" />
<path d="M604,186 Q606.5,183.8 609,185.2" stroke="#3a3a3a" stroke-width="0.8" fill="none" />
<path d="M625.5,194 C627,205 632,225 645,262 C653,285 655.8,305 655.9,339" stroke="#333" stroke-width="3.4" fill="none" />
<path d="M625.5,194 C627,205 632,225 645,262 C653,285 655.8,305 655.9,339" stroke="#fff" stroke-width="1.5" fill="none" />
<path d="M652.2,361 C649,375 640,382.3 632.6,382.3 C622,382.3 612,375 611.9,364.2" stroke="#333" stroke-width="3.4" fill="none" />
<path d="M652.2,361 C649,375 640,382.3 632.6,382.3 C622,382.3 612,375 611.9,364.2" stroke="#fff" stroke-width="1.5" fill="none" />
<path d="M559.5,348.6 L561.2,365.2 L582.4,368.7 L654.8,357.3 L660.1,339.3 L585,352.8 Z" stroke="#3a3a3a" stroke-width="1" fill="#fff" />
<line x1="585" y1="352.8" x2="582.4" y2="368.7" stroke="#3a3a3a" stroke-width="0.8" />
<path d="M559,348.4 L608,339.1 L617,337.7 Q626,334.2 634.7,334.5 Q648,336 660.1,338.8 L585,352.8 Z" stroke="#3a3a3a" stroke-width="1" fill="#fff" />
<path d="M559,348.4 L585,352.8 L660.1,339.3" stroke="#333" stroke-width="1.6" fill="none" stroke-dasharray="1.2,0.6"/>
<path d="M572.7,356.8 L581.5,358.5 L622.5,353.6 L622.5,360 L581.5,365.6 L572.7,362 Z" stroke="#3a3a3a" stroke-width="0.9" fill="#fff" />
<line x1="581.5" y1="358.5" x2="581.5" y2="365.6" stroke="#3a3a3a" stroke-width="0.7" />
<line x1="572.7" y1="356.8" x2="615" y2="362" stroke="#3a3a3a" stroke-width="0.6" />
<line x1="609.2" y1="354.5" x2="609.2" y2="361.5" stroke="#3a3a3a" stroke-width="0.7" />
<line x1="613" y1="354" x2="613" y2="361" stroke="#3a3a3a" stroke-width="0.7" />
<line x1="616.7" y1="353.8" x2="616.7" y2="360.8" stroke="#3a3a3a" stroke-width="0.7" />
<ellipse cx="641" cy="352" rx="4.2" ry="4.6" stroke="#3a3a3a" stroke-width="1" fill="#fff" />
<path d="M633,349 L641,347.4 M633,358 L641,356.6" stroke="#3a3a3a" stroke-width="0.8" fill="none" />
<ellipse cx="633.1" cy="353.6" rx="3.6" ry="4.4" stroke="#3a3a3a" stroke-width="1" fill="#fff" />
<circle cx="652.7" cy="350.5" r="5" stroke="#3a3a3a" stroke-width="1.2" fill="#fff"/>
<circle cx="659.6" cy="351.5" r="5.6" stroke="#3a3a3a" stroke-width="1" fill="#fff"/>
<path d="M657,355.8 L657.5,372.5 Q659.5,375.5 662,373 L662.5,355.5" stroke="#3a3a3a" stroke-width="1.1" fill="#fff" />
<g transform="rotate(-25 625.4 368.7)"><rect x="622.4" y="364.4" width="6" height="8.6" stroke="#222" stroke-width="0.9" fill="#fff"/><line x1="622.4" y1="371" x2="628.4" y2="371" stroke="#222" stroke-width="0.7"/></g>
</svg>
</body></html>
